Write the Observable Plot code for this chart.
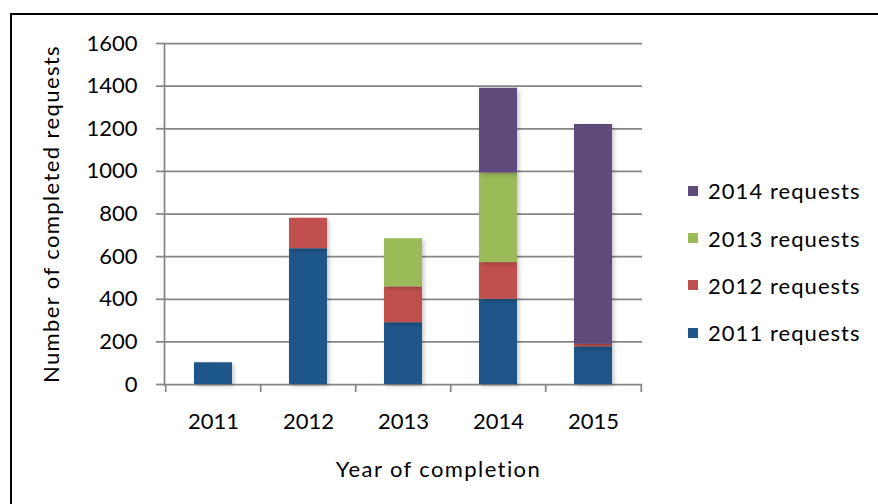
<!DOCTYPE html>
<html>
<head>
<meta charset="utf-8">
<script src="https://cdn.jsdelivr.net/npm/d3@7"></script>
<script src="https://cdn.jsdelivr.net/npm/@observablehq/plot@0.6"></script>
<style>
  html, body { margin: 0; padding: 0; background: #fff; overflow: hidden; }
  #wrap { position: relative; width: 878px; height: 504px; overflow: hidden; font-family: Lato, sans-serif; }
  #border { position: absolute; left: 10px; top: 13px; width: 900px; height: 600px; border: 2px solid #000; box-sizing: border-box; }
  #chart { position: absolute; left: 0; top: 0; }
  .bars rect { filter: drop-shadow(2px 2px 2px rgba(0,0,0,0.22)); }
  .spaced { letter-spacing: 1.4px; }
  #legend { position: absolute; left: 688px; top: 0; font-family: Lato, sans-serif; font-size: 22px; color: #000; letter-spacing: 1.05px; }
  .item { position: absolute; left: 0; white-space: nowrap; display: flex; align-items: center; height: 24px; }
  .sw { width: 10px; height: 10px; margin-right: 10px; display: inline-block; }
</style>
</head>
<body>
<div id="wrap">
  <div id="border"></div>
  <div id="chart"></div>
  <div id="legend"></div>
</div>
<script>
// Data
const years = ["2011", "2012", "2013", "2014", "2015"];
const series = ["2011 requests", "2012 requests", "2013 requests", "2014 requests"];
const colors = ["#1F5689", "#C0504D", "#9BBB59", "#604A7B"];
const req2011 = [102, 637, 290, 400, 177];
const req2012 = [0, 143, 168, 172, 11];
const req2013 = [0, 0, 226, 420, 0];
const req2014 = [0, 0, 0, 398, 1032];
const yTicks = [0, 200, 400, 600, 800, 1000, 1200, 1400, 1600];

const seriesValues = [req2011, req2012, req2013, req2014];
const data = [];
series.forEach((s, i) => {
  years.forEach((y, j) => {
    data.push({ year: y, series: s, value: seriesValues[i][j] });
  });
});

const W = 878, H = 504;
const mL = 164, mR = 236, mT = 43, mB = 120;
const step = (W - mL - mR) / years.length;
const grid = "#868686";

const chart = Plot.plot({
  width: W,
  height: H,
  marginLeft: mL,
  marginRight: mR,
  marginTop: mT,
  marginBottom: mB,
  style: { fontFamily: "Lato, sans-serif", fontSize: "22px", color: "#000", background: "transparent", overflow: "visible" },
  x: { type: "band", domain: years, paddingInner: 0.6, paddingOuter: 0.3, axis: null },
  y: { domain: [0, 1600], axis: null },
  color: { domain: series, range: colors },
  marks: [
    Plot.ruleY(yTicks, { stroke: grid, strokeWidth: 1.75 }),
    Plot.frame({ anchor: "left", stroke: grid, strokeWidth: 1.75 }),
    Plot.axisY(yTicks, {
      tickSize: 8, tickPadding: 19, stroke: grid, strokeWidth: 1.75,
      fill: "#000", fontSize: 22, tickFormat: d => String(d), label: null
    }),
    Plot.text(["Number of completed requests"], {
      frameAnchor: "left", dx: -121, rotate: -90, lineAnchor: "top", textAnchor: "middle",
      fontSize: 22, fill: "#000", className: "spaced"
    }),
    Plot.axisX(years, { tickSize: 8, dx: -step / 2, text: null, stroke: grid, strokeWidth: 1.75, label: null }),
    Plot.axisX([years[years.length - 1]], { tickSize: 8, dx: step / 2, text: null, stroke: grid, strokeWidth: 1.75, label: null }),
    Plot.axisX(years, { tickSize: 0, tickPadding: 29, fill: "#000", fontSize: 22, label: null }),
    Plot.text(["Year of completion"], { frameAnchor: "bottom", dx: 35, dy: 92, fontSize: 22, fill: "#000", lineAnchor: "bottom", className: "spaced" }),
    Plot.barY(data, { x: "year", y: "value", fill: "series", className: "bars" })
  ]
});
document.getElementById("chart").appendChild(chart);

// Legend (top to bottom: 2014 .. 2011)
const legend = document.getElementById("legend");
const centers = [190.7, 238, 285.3, 332.7];
series.slice().reverse().forEach((s, i) => {
  const c = colors[series.indexOf(s)];
  const item = document.createElement("div");
  item.className = "item";
  item.style.top = (centers[i] - 12) + "px";
  item.innerHTML = `<span class="sw" style="background:${c}"></span><span>${s}</span>`;
  legend.appendChild(item);
});
</script>
</body>
</html>
